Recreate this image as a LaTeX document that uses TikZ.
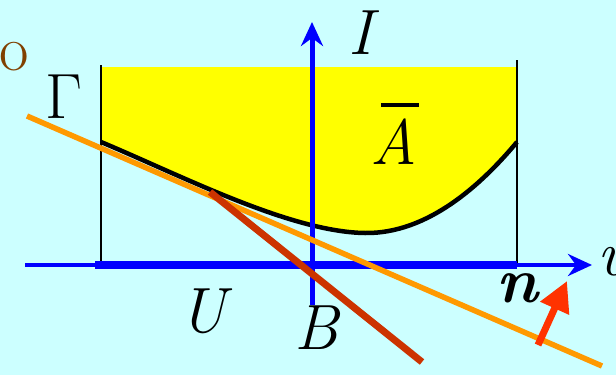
\documentclass[tikz,border=0pt]{standalone}
\usepackage{fontspec}
\usetikzlibrary{arrows.meta}
\definecolor{bgcyan}{HTML}{CCFFFF}
\definecolor{axisblue}{HTML}{0000FF}
\definecolor{lineorange}{HTML}{FF9900}
\definecolor{linerust}{HTML}{CC3300}
\definecolor{arrowred}{HTML}{FF3300}
\definecolor{labelbrown}{HTML}{804000}
\definecolor{fillyellow}{HTML}{FFFF00}
\begin{document}
\begin{tikzpicture}[x=1pt,y=-1pt,
  lbl/.style={font=\fontsize{64}{64}\selectfont,inner sep=0pt},
  axis/.style={axisblue,line width=4pt,-{Stealth[length=24pt,width=22pt,inset=8pt]}},
  wall/.style={black,line width=1.3pt}]
\useasboundingbox[fill=bgcyan] (0,0) rectangle (616,375);
% region above the curve
\fill[fillyellow] (101,67) -- (517,67) -- (517,142)
  .. controls (482,184) and (428,234) .. (365,233)
  .. controls (290,232) and (180,175) .. (101,142) -- cycle;
\draw[wall] (101,65) -- (101,265);
\draw[wall] (517,60) -- (517,265);
\draw[black,line width=4.5pt] (101,142) .. controls (180,175) and (290,232) .. (365,233)
  .. controls (428,234) and (482,184) .. (517,142);
% axes
\coordinate (uleft) at (25,265);
\coordinate (uright) at (592,265);
\coordinate (ibot) at (312,305);
\coordinate (itop) at (312,22);
\draw[axis] (uleft) -- (uright);
\draw[axisblue,line width=8pt] (95,265) -- (517,265);
\draw[axis,line width=5pt] (ibot) -- (itop);
% lines
\coordinate (oa) at (27,116);
\coordinate (ob) at (602,366);
\draw[lineorange,line width=5.5pt] (oa) -- (ob);
\coordinate (ra) at (210,192);
\coordinate (rb) at (422,362);
\draw[linerust,line width=7pt] (ra) -- (rb);
\coordinate (na) at (538,345);
\coordinate (nb) at (567,281);
\draw[arrowred,line width=7pt,-{Triangle[length=30pt,width=30pt]}] (na) -- (nb);
% labels
\node[lbl,text=labelbrown] (o) at (14,57) {o};
\node[lbl] (gamma) at (64,97) {Γ};
\node[lbl] (iax) at (361,33) {\itshape I};
\node[lbl] (abar) at (394,134)
  {\rlap{\hspace{0.16em}\raisebox{0.9em}{\rule{0.6em}{0.06em}}}\itshape A};
\node[lbl] (uset) at (203,311) {\itshape U};
\node[lbl] (bset) at (317,328) {\itshape B};
\node[lbl] (nvec) at (517,288) {\bfseries\itshape n};
\node[lbl] (uax) at (614,262) {\itshape u};
\end{tikzpicture}
\end{document}
